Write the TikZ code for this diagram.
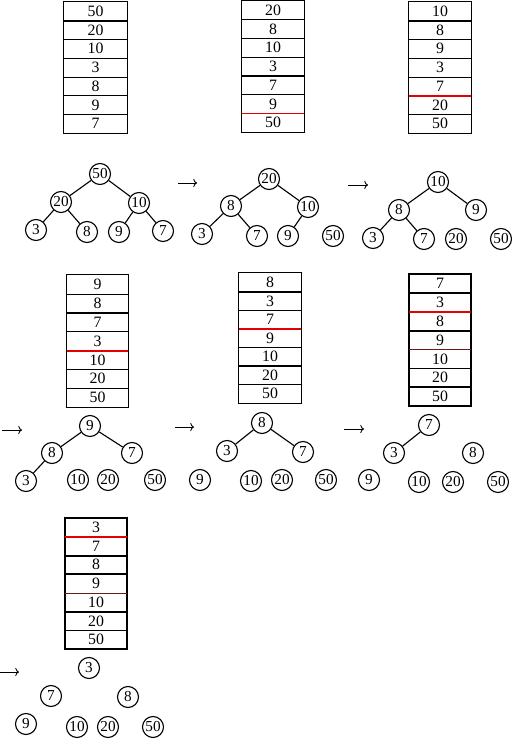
\documentclass[tikz,border=0pt]{standalone}
\usepackage{fontspec}
\setmainfont{Liberation Serif}
\usetikzlibrary{arrows.meta}
\tikzset{
  cell/.style={rectangle, inner sep=0pt, font=\fontsize{13.5}{14}\selectfont},
  hnode/.style={draw, circle, line width=0.95pt, inner sep=0pt, minimum size=0.63cm, font=\fontsize{13}{14}\selectfont},
  edge/.style={line width=0.95pt},
  redline/.style={draw=red!90!black, line width=1.5pt},
  dredline/.style={draw={rgb,255:red,110;green,25;blue,25}, line width=0.6pt},
  steparrow/.style={line width=0.75pt, -{To[length=3.2pt, width=7pt]}},
}
% #1 name, #2 left, #3 top, #4 right, #5 bottom, #6 line width, #7 values, #8 black separators
\newcommand\htable[8]{%
  \foreach \v [count=\i] in {#7} {
    \node[cell, minimum width={(#4-#2)*0.03cm}, minimum height={(#5-#3)/7*0.03cm}]
      (#1-\i) at ({(#2+#4)/2},{#3+(\i-0.5)*(#5-#3)/7}) {\v};
  }%
  \draw[line width=#6] (#1-1.north west) rectangle (#1-7.south east);
  \foreach \j in {#8} {
    \draw[line width=#6] (#1-\j.south west) -- (#1-\j.south east);
  }%
}
\begin{document}
\begin{tikzpicture}[x=0.03cm, y=-0.03cm]
\useasboundingbox (0,0) rectangle (512,739);
% ---------- tables ----------
\htable{ta}{64}{2}{127}{133}{1pt}{50,20,10,3,8,9,7}{1,2,3,4,5,6}
\htable{tb}{242}{0.8}{304}{132}{1pt}{20,8,10,3,7,9,50}{1,2,3,4,5}
\draw[redline] (tb-6.south west) -- (tb-6.south east);
\htable{tc}{409}{2}{471}{133}{1pt}{10,8,9,3,7,20,50}{1,2,3,4,6}
\draw[redline] (tc-5.south west) -- (tc-5.south east);
\htable{td}{67}{275}{128}{407}{1pt}{9,8,7,3,10,20,50}{1,2,3,5,6}
\draw[redline] (td-4.south west) -- (td-4.south east);
\htable{te}{239}{273}{301}{403}{1.2pt}{8,3,7,9,10,20,50}{1,2,4,5,6}
\draw[redline] (te-3.south west) -- (te-3.south east);
\htable{tf}{409}{274}{471}{406}{1.6pt}{7,3,8,9,10,20,50}{1,3,5,6}
\draw[redline] (tf-2.south west) -- (tf-2.south east);
\draw[dredline] (tf-4.south west) -- (tf-4.south east);
\htable{tg}{65}{518}{127}{649}{1.6pt}{3,7,8,9,10,20,50}{2,3,5,6}
\draw[redline] (tg-1.south west) -- (tg-1.south east);
\draw[dredline] (tg-4.south west) -- (tg-4.south east);
% ---------- step arrows ----------
\coordinate (s1a) at (178,183); \coordinate (s1b) at (197,183);
\coordinate (s2a) at (348,185); \coordinate (s2b) at (368,185);
\coordinate (s3a) at (2,430);   \coordinate (s3b) at (22,430);
\coordinate (s4a) at (175,427); \coordinate (s4b) at (194,427);
\coordinate (s5a) at (344,429); \coordinate (s5b) at (364,429);
\coordinate (s6a) at (0,672);   \coordinate (s6b) at (19,672);
\draw[steparrow] (s1a) -- (s1b);
\draw[steparrow] (s2a) -- (s2b);
\draw[steparrow] (s3a) -- (s3b);
\draw[steparrow] (s4a) -- (s4b);
\draw[steparrow] (s5a) -- (s5b);
\draw[steparrow] (s6a) -- (s6b);
% ---------- tree 1 ----------
\node[hnode] (a50) at (100,174) {50};
\node[hnode] (a20) at (61,202) {20};
\node[hnode] (a10) at (139,203) {10};
\node[hnode] (a3) at (36,230) {3};
\node[hnode] (a8) at (87,232) {8};
\node[hnode] (a9) at (119,232) {9};
\node[hnode] (a7) at (163,231) {7};
\draw[edge] (a50) -- (a20); \draw[edge] (a50) -- (a10);
\draw[edge] (a20) -- (a3); \draw[edge] (a20) -- (a8);
\draw[edge] (a10) -- (a9); \draw[edge] (a10) -- (a7);
% ---------- tree 2 ----------
\node[hnode] (b20) at (269,179) {20};
\node[hnode] (b8) at (231,206) {8};
\node[hnode] (b10) at (308,207) {10};
\node[hnode] (b3) at (202,234) {3};
\node[hnode] (b7) at (257,236) {7};
\node[hnode] (b9) at (288,236) {9};
\node[hnode] (b50) at (333,236) {50};
\draw[edge] (b20) -- (b8); \draw[edge] (b20) -- (b10);
\draw[edge] (b8) -- (b3); \draw[edge] (b8) -- (b7);
\draw[edge] (b10) -- (b9);
% ---------- tree 3 ----------
\node[hnode] (c10) at (438,182) {10};
\node[hnode] (c8) at (399,210) {8};
\node[hnode] (c9) at (476,210) {9};
\node[hnode] (c3) at (373,238) {3};
\node[hnode] (c7) at (424,239) {7};
\node[hnode] (c20) at (456,239) {20};
\node[hnode] (c50) at (501,239) {50};
\draw[edge] (c10) -- (c8); \draw[edge] (c10) -- (c9);
\draw[edge] (c8) -- (c3); \draw[edge] (c8) -- (c7);
% ---------- tree 4 ----------
\node[hnode] (d9) at (90,426) {9};
\node[hnode] (d8) at (52,453) {8};
\node[hnode] (d7) at (132,453) {7};
\node[hnode] (d3) at (26,481) {3};
\node[hnode] (d10) at (78,480) {10};
\node[hnode] (d20) at (108,480) {20};
\node[hnode] (d50) at (155,480) {50};
\draw[edge] (d9) -- (d8); \draw[edge] (d9) -- (d7);
\draw[edge] (d8) -- (d3);
% ---------- tree 5 ----------
\node[hnode] (e8) at (262,423) {8};
\node[hnode] (e3) at (227,451) {3};
\node[hnode] (e7) at (303,452) {7};
\node[hnode] (e9) at (200,480) {9};
\node[hnode] (e10) at (251,481) {10};
\node[hnode] (e20) at (282,480) {20};
\node[hnode] (e50) at (326,480) {50};
\draw[edge] (e8) -- (e3); \draw[edge] (e8) -- (e7);
% ---------- tree 6 ----------
\node[hnode] (f7) at (429,425) {7};
\node[hnode] (f3) at (394,453) {3};
\node[hnode] (f8) at (473,453) {8};
\node[hnode] (f9) at (369,480) {9};
\node[hnode] (f10) at (419,482) {10};
\node[hnode] (f20) at (453,482) {20};
\node[hnode] (f50) at (498,482) {50};
\draw[edge] (f7) -- (f3);
% ---------- tree 7 ----------
\node[hnode] (g3) at (89,668) {3};
\node[hnode] (g7) at (51,696) {7};
\node[hnode] (g8) at (128,697) {8};
\node[hnode] (g9) at (26,724) {9};
\node[hnode] (g10) at (77,727) {10};
\node[hnode] (g20) at (108,727) {20};
\node[hnode] (g50) at (153,727) {50};
\end{tikzpicture}
\end{document}
